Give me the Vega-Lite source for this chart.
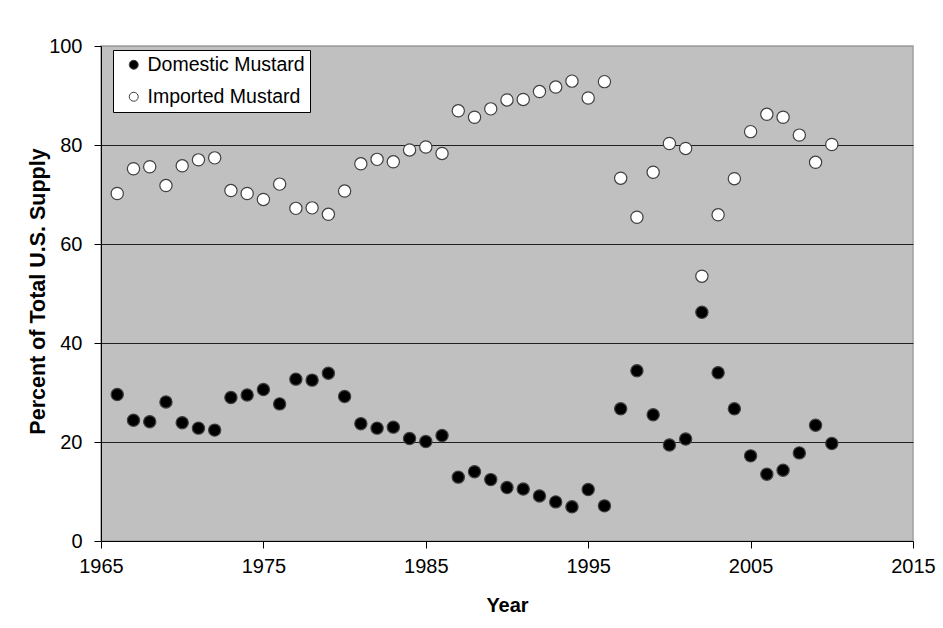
{
  "$schema": "https://vega.github.io/schema/vega-lite/v6.json",
  "width": 812,
  "height": 495,
  "autosize": {"type": "none"},
  "padding": {"left": 101, "top": 46, "right": 30, "bottom": 87},
  "background": "white",
  "config": {
    "font": "Liberation Sans",
    "view": {"fill": "#c0c0c0", "stroke": "#a0a0a0", "strokeWidth": 1.5}
  },
  "data": {
    "values": [
      {"year": 1966, "series": "Domestic Mustard", "pct": 29.6},
      {"year": 1967, "series": "Domestic Mustard", "pct": 24.4},
      {"year": 1968, "series": "Domestic Mustard", "pct": 24.1},
      {"year": 1969, "series": "Domestic Mustard", "pct": 28.1},
      {"year": 1970, "series": "Domestic Mustard", "pct": 23.9},
      {"year": 1971, "series": "Domestic Mustard", "pct": 22.8},
      {"year": 1972, "series": "Domestic Mustard", "pct": 22.4},
      {"year": 1973, "series": "Domestic Mustard", "pct": 29.0},
      {"year": 1974, "series": "Domestic Mustard", "pct": 29.5},
      {"year": 1975, "series": "Domestic Mustard", "pct": 30.6},
      {"year": 1976, "series": "Domestic Mustard", "pct": 27.7},
      {"year": 1977, "series": "Domestic Mustard", "pct": 32.7},
      {"year": 1978, "series": "Domestic Mustard", "pct": 32.5},
      {"year": 1979, "series": "Domestic Mustard", "pct": 33.9},
      {"year": 1980, "series": "Domestic Mustard", "pct": 29.2},
      {"year": 1981, "series": "Domestic Mustard", "pct": 23.7},
      {"year": 1982, "series": "Domestic Mustard", "pct": 22.8},
      {"year": 1983, "series": "Domestic Mustard", "pct": 23.0},
      {"year": 1984, "series": "Domestic Mustard", "pct": 20.7},
      {"year": 1985, "series": "Domestic Mustard", "pct": 20.1},
      {"year": 1986, "series": "Domestic Mustard", "pct": 21.3},
      {"year": 1987, "series": "Domestic Mustard", "pct": 12.9},
      {"year": 1988, "series": "Domestic Mustard", "pct": 14.0},
      {"year": 1989, "series": "Domestic Mustard", "pct": 12.4},
      {"year": 1990, "series": "Domestic Mustard", "pct": 10.8},
      {"year": 1991, "series": "Domestic Mustard", "pct": 10.5},
      {"year": 1992, "series": "Domestic Mustard", "pct": 9.1},
      {"year": 1993, "series": "Domestic Mustard", "pct": 7.9},
      {"year": 1994, "series": "Domestic Mustard", "pct": 6.9},
      {"year": 1995, "series": "Domestic Mustard", "pct": 10.4},
      {"year": 1996, "series": "Domestic Mustard", "pct": 7.1},
      {"year": 1997, "series": "Domestic Mustard", "pct": 26.7},
      {"year": 1998, "series": "Domestic Mustard", "pct": 34.4},
      {"year": 1999, "series": "Domestic Mustard", "pct": 25.5},
      {"year": 2000, "series": "Domestic Mustard", "pct": 19.4},
      {"year": 2001, "series": "Domestic Mustard", "pct": 20.6},
      {"year": 2002, "series": "Domestic Mustard", "pct": 46.2},
      {"year": 2003, "series": "Domestic Mustard", "pct": 34.0},
      {"year": 2004, "series": "Domestic Mustard", "pct": 26.7},
      {"year": 2005, "series": "Domestic Mustard", "pct": 17.2},
      {"year": 2006, "series": "Domestic Mustard", "pct": 13.5},
      {"year": 2007, "series": "Domestic Mustard", "pct": 14.3},
      {"year": 2008, "series": "Domestic Mustard", "pct": 17.8},
      {"year": 2009, "series": "Domestic Mustard", "pct": 23.4},
      {"year": 2010, "series": "Domestic Mustard", "pct": 19.7},
      {"year": 1966, "series": "Imported Mustard", "pct": 70.2},
      {"year": 1967, "series": "Imported Mustard", "pct": 75.2},
      {"year": 1968, "series": "Imported Mustard", "pct": 75.6},
      {"year": 1969, "series": "Imported Mustard", "pct": 71.8},
      {"year": 1970, "series": "Imported Mustard", "pct": 75.8},
      {"year": 1971, "series": "Imported Mustard", "pct": 77.0},
      {"year": 1972, "series": "Imported Mustard", "pct": 77.4},
      {"year": 1973, "series": "Imported Mustard", "pct": 70.8},
      {"year": 1974, "series": "Imported Mustard", "pct": 70.2},
      {"year": 1975, "series": "Imported Mustard", "pct": 69.0},
      {"year": 1976, "series": "Imported Mustard", "pct": 72.1},
      {"year": 1977, "series": "Imported Mustard", "pct": 67.2},
      {"year": 1978, "series": "Imported Mustard", "pct": 67.3},
      {"year": 1979, "series": "Imported Mustard", "pct": 66.0},
      {"year": 1980, "series": "Imported Mustard", "pct": 70.7},
      {"year": 1981, "series": "Imported Mustard", "pct": 76.2},
      {"year": 1982, "series": "Imported Mustard", "pct": 77.1},
      {"year": 1983, "series": "Imported Mustard", "pct": 76.6},
      {"year": 1984, "series": "Imported Mustard", "pct": 79.0},
      {"year": 1985, "series": "Imported Mustard", "pct": 79.6},
      {"year": 1986, "series": "Imported Mustard", "pct": 78.3},
      {"year": 1987, "series": "Imported Mustard", "pct": 86.9},
      {"year": 1988, "series": "Imported Mustard", "pct": 85.6},
      {"year": 1989, "series": "Imported Mustard", "pct": 87.3},
      {"year": 1990, "series": "Imported Mustard", "pct": 89.1},
      {"year": 1991, "series": "Imported Mustard", "pct": 89.2},
      {"year": 1992, "series": "Imported Mustard", "pct": 90.8},
      {"year": 1993, "series": "Imported Mustard", "pct": 91.7},
      {"year": 1994, "series": "Imported Mustard", "pct": 92.9},
      {"year": 1995, "series": "Imported Mustard", "pct": 89.5},
      {"year": 1996, "series": "Imported Mustard", "pct": 92.8},
      {"year": 1997, "series": "Imported Mustard", "pct": 73.3},
      {"year": 1998, "series": "Imported Mustard", "pct": 65.4},
      {"year": 1999, "series": "Imported Mustard", "pct": 74.5},
      {"year": 2000, "series": "Imported Mustard", "pct": 80.3},
      {"year": 2001, "series": "Imported Mustard", "pct": 79.3},
      {"year": 2002, "series": "Imported Mustard", "pct": 53.5},
      {"year": 2003, "series": "Imported Mustard", "pct": 65.9},
      {"year": 2004, "series": "Imported Mustard", "pct": 73.2},
      {"year": 2005, "series": "Imported Mustard", "pct": 82.7},
      {"year": 2006, "series": "Imported Mustard", "pct": 86.2},
      {"year": 2007, "series": "Imported Mustard", "pct": 85.6},
      {"year": 2008, "series": "Imported Mustard", "pct": 82.0},
      {"year": 2009, "series": "Imported Mustard", "pct": 76.5},
      {"year": 2010, "series": "Imported Mustard", "pct": 80.1}
    ]
  },
  "mark": {"type": "point", "shape": "circle", "filled": true, "size": 150, "stroke": "#404040", "strokeWidth": 1.2, "opacity": 1},
  "encoding": {
    "x": {
      "field": "year",
      "type": "quantitative",
      "scale": {"domain": [1965, 2015], "nice": false, "zero": false},
      "axis": {
        "title": "Year",
        "values": [1965, 1975, 1985, 1995, 2005, 2015],
        "format": "d",
        "grid": false,
        "domainColor": "black",
        "domainWidth": 1,
        "tickColor": "black",
        "tickSize": 7,
        "labelPadding": 8,
        "labelFontSize": 20,
        "labelColor": "black",
        "labelFlush": false,
        "titleFontSize": 20,
        "titleFontWeight": "bold",
        "titleColor": "black",
        "titleX": 406,
        "titleY": 64,
        "titleBaseline": "middle",
        "titleAlign": "center"
      }
    },
    "y": {
      "field": "pct",
      "type": "quantitative",
      "scale": {"domain": [0, 100], "nice": false},
      "axis": {
        "title": "Percent of Total U.S. Supply",
        "values": [0, 20, 40, 60, 80, 100],
        "grid": true,
        "gridColor": {"condition": {"test": "datum.value === 100 || datum.value === 0", "value": "#a0a0a0"}, "value": "#202020"},
        "gridWidth": 1,
        "domainColor": "black",
        "domainWidth": 1,
        "tickColor": "black",
        "tickSize": 7,
        "labelPadding": 12,
        "labelFontSize": 20,
        "labelColor": "black",
        "labelFlush": false,
        "titleFontSize": 21.5,
        "titleFontWeight": "bold",
        "titleColor": "black",
        "titleX": -63,
        "titleY": 245,
        "titleAngle": -90,
        "titleBaseline": "middle",
        "titleAlign": "center"
      }
    },
    "fill": {
      "field": "series",
      "type": "nominal",
      "scale": {"domain": ["Domestic Mustard", "Imported Mustard"], "range": ["black", "white"]},
      "legend": {
        "title": null,
        "orient": "none",
        "legendX": 12,
        "legendY": 4,
        "direction": "vertical",
        "fillColor": "white",
        "strokeColor": "black",
        "padding": 5,
        "rowPadding": 11,
        "symbolType": "circle",
        "symbolSize": 80,
        "symbolOffset": 6,
        "symbolStrokeColor": "#404040",
        "symbolStrokeWidth": 1,
        "labelFontSize": 19.5,
        "labelColor": "black",
        "labelOffset": 4,
        "labelLimit": 400,
        "labelExpr": "datum.label + '    '"
      }
    }
  }
}
